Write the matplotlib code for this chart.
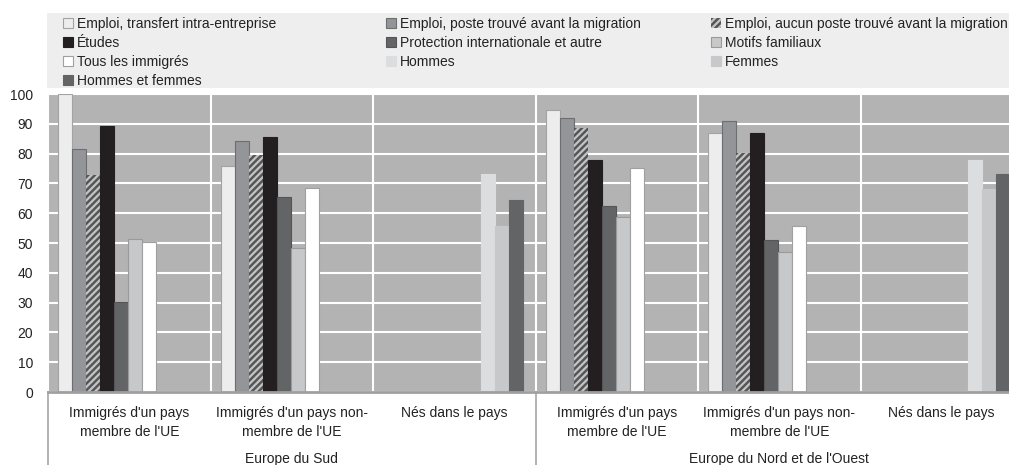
import numpy as np
import matplotlib
matplotlib.use('Agg')
import matplotlib.pyplot as plt
from matplotlib.patches import Rectangle

# categories on the x axis (two levels)
categories = ["Immigrés d'un pays\nmembre de l'UE", "Immigrés d'un pays non-\nmembre de l'UE", "Nés dans le pays",
              "Immigrés d'un pays\nmembre de l'UE", "Immigrés d'un pays non-\nmembre de l'UE", "Nés dans le pays"]
regions = ['Europe du Sud', "Europe du Nord et de l'Ouest"]

nan = np.nan
transfert  = [100.0, 75.9, nan, 94.7, 87.0, nan]
poste      = [81.7, 84.1, nan, 91.8, 90.8, nan]
aucun      = [72.7, 79.4, nan, 88.7, 80.1, nan]
etudes     = [89.2, 85.6, nan, 77.8, 86.9, nan]
protection = [30.2, 65.3, nan, 62.5, 51.1, nan]
familiaux  = [51.3, 48.4, nan, 58.7, 47.0, nan]
tous       = [50.3, 68.5, nan, 75.2, 55.6, nan]
hommes     = [nan, nan, 73.0, nan, nan, 77.9]
femmes     = [nan, nan, 55.7, nan, nan, 68.1]
h_et_f     = [nan, nan, 64.3, nan, nan, 73.0]

series = [
    ('Emploi, transfert intra-entreprise', transfert, '#ededed', '#a3a3a3', None),
    ('Emploi, poste trouvé avant la migration', poste, '#939598', '#6d6e70', None),
    ('Emploi, aucun poste trouvé avant la migration', aucun, '#555658', '#c4c4c4', '/////'),
    ('Études', etudes, '#231f20', '#231f20', None),
    ('Protection internationale et autre', protection, '#636466', '#555555', None),
    ('Motifs familiaux', familiaux, '#c7c8ca', '#9a9a9a', None),
    ('Tous les immigrés', tous, '#ffffff', '#a0a0a0', None),
    ('Hommes', hommes, '#dcdddf', '#dcdddf', None),
    ('Femmes', femmes, '#c7c8ca', '#c7c8ca', None),
    ('Hommes et femmes', h_et_f, '#636466', '#636466', None),
]

plt.rcParams['font.family'] = ['Liberation Sans', 'DejaVu Sans']
plt.rcParams['hatch.linewidth'] = 1.6

fig = plt.figure( figsize=(10.09, 4.65), dpi=100)
ax = fig.add_axes( [48/1009, 73/465, 975/1009, 298/465])
ax.set_facecolor( '#b3b3b3')

x = np.arange( len(categories))
bw = 14/162.5
start = -0.5 + 10/162.5

handles = []
for j, (name, vals, fc, ec, hatch) in enumerate( series):
    pos = x + start + (j + 0.5)*bw
    if hatch:
        b = ax.bar( pos, vals, bw, color=fc, edgecolor=ec, hatch=hatch, lw=0, label=name, zorder=3)
    else:
        b = ax.bar( pos, vals, bw, color=fc, edgecolor=ec, lw=0.8, label=name, zorder=3)
    handles.append( b)

ax.set_xlim( -0.5, 5.5)
ax.set_ylim( 0, 100)
ax.set_yticks( np.arange( 0, 101, 10))
ax.tick_params( axis='y', length=0, pad=10.8, labelsize=10, labelcolor='#222222')
ax.set_xticks( x)
ax.set_xticklabels( categories, fontsize=10, color='#222222', linespacing=1.45)
ax.tick_params( axis='x', length=0, pad=10)
ax.set_xticks( np.arange( -0.5, 6, 1), minor=True)
ax.tick_params( axis='x', which='minor', length=0)
ax.grid( axis='y', color='white', lw=1.5, zorder=1)
ax.grid( axis='x', which='minor', color='white', lw=1.5, zorder=1)
for s in ['top', 'right', 'left']:
    ax.spines[s].set_visible( False)
ax.spines['bottom'].set_color( '#a0a0a0')
ax.spines['bottom'].set_linewidth( 2)
ax.spines['bottom'].set_zorder( 4)

# group labels and separators
for k, reg in enumerate( regions):
    ax.text( 1 + 3*k, -0.225, reg, transform=ax.get_xaxis_transform(), ha='center', va='center',
             fontsize=10, color='#222222')
    ax.axvline( -0.5 + 3*k, ymin=-0.25, ymax=0, color='#a6a6a6', lw=1.2, clip_on=False)

# legend background
fig.patches.append( Rectangle( (47/1009, 1 - 88/465), 962/1009, 75/465, transform=fig.transFigure,
                               facecolor='#eeeeee', edgecolor='none', zorder=0))

cols = [[0, 3, 6, 9], [1, 4, 7], [2, 5, 8]]
xcols = [63, 386, 711]
for c, idx in enumerate( cols):
    leg = fig.legend( [handles[i] for i in idx], [series[i][0] for i in idx], loc='upper left',
                      bbox_to_anchor=(xcols[c]/1009, 1 - 17/465), frameon=False, fontsize=10,
                      handlelength=0.7, handleheight=0.7, handletextpad=0.3,
                      labelspacing=0.35, borderpad=0, borderaxespad=0)
    for t in leg.get_texts():
        t.set_color( '#222222')

fig.savefig( 'out.png', dpi=100)
